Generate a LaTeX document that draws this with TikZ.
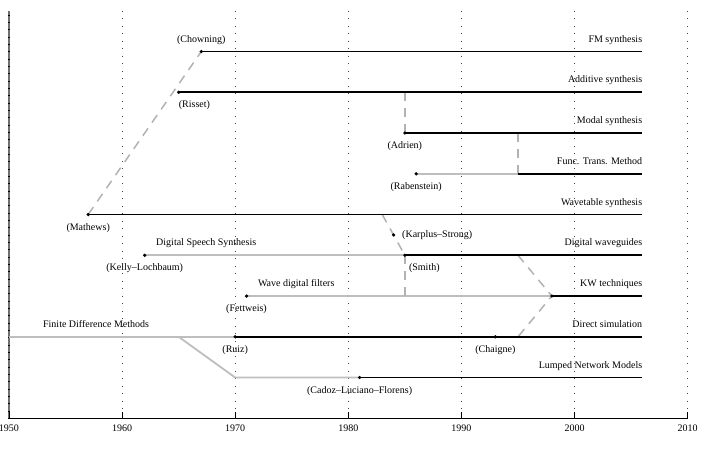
\documentclass[tikz,border=0pt]{standalone}
\usepackage{fontspec}
\setmainfont{Liberation Serif}
\usetikzlibrary{positioning,calc}
\definecolor{oldgray}{HTML}{BEBEBE}
\definecolor{linkgray}{HTML}{B2B2B2}
\definecolor{gridgray}{HTML}{444444}
\definecolor{axisgray}{HTML}{707070}
\newcommand{\yr}[1]{#1-1950}
\tikzset{
  newline/.style={line width=1.8pt, color=black},
  oldline/.style={line width=1.8pt, color=oldgray},
  link/.style={line width=1.5pt, color=linkgray, dash pattern=on 9pt off 7pt},
  grid/.style={line width=0.8pt, color=gridgray, dash pattern=on 0.8pt off 6.7pt},
  taxis/.style={line width=1.3pt, color=black},
  vaxis/.style={line width=1.4pt, color=axisgray},
  dot/.style={circle, fill=black, inner sep=0pt, minimum size=3.6pt},
  % labels
  who/.style={anchor=base, yshift=-15.5pt, inner sep=0pt},
  whotop/.style={anchor=base, yshift=9pt, inner sep=0pt},
  method/.style={anchor=base east, yshift=9.5pt, inner sep=0pt},
  branch/.style={anchor=base west, yshift=9.5pt, inner sep=0pt},
  yearlbl/.style={anchor=base, yshift=-13.5pt, inner sep=0pt},
}
\begin{document}
\begin{tikzpicture}[x=11.31pt,y=40.75pt]
  \useasboundingbox (-9pt,-29.7pt) rectangle (695pt,418.3pt);
  % grid and axes
  \foreach \d in {1960,1970,...,2010} {
    \draw[grid] (\yr{\d},10) -- (\yr{\d},0);
  }
  \draw[vaxis] (0,0) -- (0,10);
  \foreach \k in {0,...,55} {
    \draw[black, line width=0.4pt] ([xshift=-1.2pt]0,\k*0.18) -- ([xshift=1.2pt]0,\k*0.18);
  }
  \draw[taxis] (0,0) -- (60,0);
  \foreach \d in {1950,1960,...,2010} {
    \draw[taxis, line width=0.8pt] (\yr{\d},0) -- ([yshift=6pt]\yr{\d},0);
    \node[yearlbl] (y\d) at (\yr{\d},0) {\d};
  }
  % points on the time lines
  \coordinate (chowning) at (\yr{1967},9);
  \coordinate (fmend) at (\yr{2006},9);
  \coordinate (risset) at (\yr{1965},8);
  \coordinate (addsplit) at (\yr{1985},8);
  \coordinate (addend) at (\yr{2006},8);
  \coordinate (adrien) at (\yr{1985},7);
  \coordinate (modalsplit) at (\yr{1995},7);
  \coordinate (modalend) at (\yr{2006},7);
  \coordinate (rabenstein) at (\yr{1986},6);
  \coordinate (ftmjoin) at (\yr{1995},6);
  \coordinate (ftmend) at (\yr{2006},6);
  \coordinate (mathews) at (\yr{1957},5);
  \coordinate (wtsplit) at (\yr{1983},5);
  \coordinate (wtend) at (\yr{2006},5);
  \coordinate (karplus) at (\yr{1984},4.5);
  \coordinate (kelly) at (\yr{1962},4);
  \coordinate (smith) at (\yr{1985},4);
  \coordinate (dwgsplit) at (\yr{1995},4);
  \coordinate (dwgend) at (\yr{2006},4);
  \coordinate (fettweis) at (\yr{1971},3);
  \coordinate (kwsmith) at (\yr{1985},3);
  \coordinate (kwjoin) at (\yr{1998},3);
  \coordinate (kwend) at (\yr{2006},3);
  \coordinate (fdstart) at (\yr{1950},2);
  \coordinate (fdbend) at (\yr{1965},2);
  \coordinate (ruiz) at (\yr{1970},2);
  \coordinate (chaigne) at (\yr{1993},2);
  \coordinate (dssplit) at (\yr{1995},2);
  \coordinate (dsend) at (\yr{2006},2);
  \coordinate (lumpbend) at (\yr{1970},1);
  \coordinate (cadoz) at (\yr{1981},1);
  \coordinate (lumpend) at (\yr{2006},1);
  % early (gray) stretches
  \draw[oldline] (rabenstein) -- (ftmjoin);
  \draw[oldline] (kelly) -- (smith);
  \draw[oldline] (fettweis) -- (kwjoin);
  \draw[oldline] (fdstart) -- (ruiz);
  \draw[oldline] (fdbend) -- (lumpbend) -- (cadoz);
  % influences
  \draw[link] (mathews) -- (chowning);
  \draw[link] (addsplit) -- (adrien);
  \draw[link] (modalsplit) -- (ftmjoin);
  \draw[link] (wtsplit) -- (smith);
  \draw[link] (smith) -- (kwsmith);
  \draw[link] (dwgsplit) -- (kwjoin) -- (dssplit);
  % methods
  \draw[newline] (chowning) -- (fmend);
  \draw[newline] (risset) -- (addend);
  \draw[newline] (adrien) -- (modalend);
  \draw[newline] (ftmjoin) -- (ftmend);
  \draw[newline] (mathews) -- (wtend);
  \draw[newline] (smith) -- (dwgend);
  \draw[newline] (kwjoin) -- (kwend);
  \draw[newline] (ruiz) -- (dsend);
  \draw[newline] (cadoz) -- (lumpend);
  \foreach \p in {chowning,risset,adrien,rabenstein,mathews,karplus,kelly,smith,
                  fettweis,kwjoin,ruiz,chaigne,cadoz} {
    \node[dot] (\p dot) at (\p) {};
  }
  % method names
  \node[method] (fmlbl) at (fmend) {FM synthesis};
  \node[method] (addlbl) at (addend) {Additive synthesis};
  \node[method] (modallbl) at (modalend) {Modal synthesis};
  \node[method] (ftmlbl) at (ftmend) {Func. Trans. Method};
  \node[method] (wtlbl) at (wtend) {Wavetable synthesis};
  \node[method] (dwglbl) at (dwgend) {Digital waveguides};
  \node[method] (kwlbl) at (kwend) {KW techniques};
  \node[method] (dslbl) at (dsend) {Direct simulation};
  \node[method] (lumplbl) at (lumpend) {Lumped Network Models};
  \node[branch] (dsslbl) at (\yr{1963},4) {Digital Speech Synthesis};
  \node[branch] (wdflbl) at (\yr{1972},3) {Wave digital filters};
  \node[branch] (fdmlbl) at (\yr{1953},2) {Finite Difference Methods};
  % authors
  \node[whotop] (chowninglbl) at (chowning) {(Chowning)};
  \node[who, anchor=base west] (rissetlbl) at (risset) {(Risset)};
  \node[who] (adrienlbl) at (adrien) {(Adrien)};
  \node[who] (rabensteinlbl) at (rabenstein) {(Rabenstein)};
  \node[who] (mathewslbl) at (mathews) {(Mathews)};
  \node[anchor=base west, inner sep=0pt, xshift=8.5pt, yshift=-2.5pt] (karpluslbl) at (karplus) {(Karplus--Strong)};
  \node[who] (kellylbl) at (kelly) {(Kelly--Lochbaum)};
  \node[who, anchor=base west, xshift=4pt] (smithlbl) at (smith) {(Smith)};
  \node[who] (fettweislbl) at (fettweis) {(Fettweis)};
  \node[who] (ruizlbl) at (ruiz) {(Ruiz)};
  \node[who] (chaignelbl) at (chaigne) {(Chaigne)};
  \node[who] (cadozlbl) at (cadoz) {(Cadoz--Luciano--Florens)};
\end{tikzpicture}
\end{document}
